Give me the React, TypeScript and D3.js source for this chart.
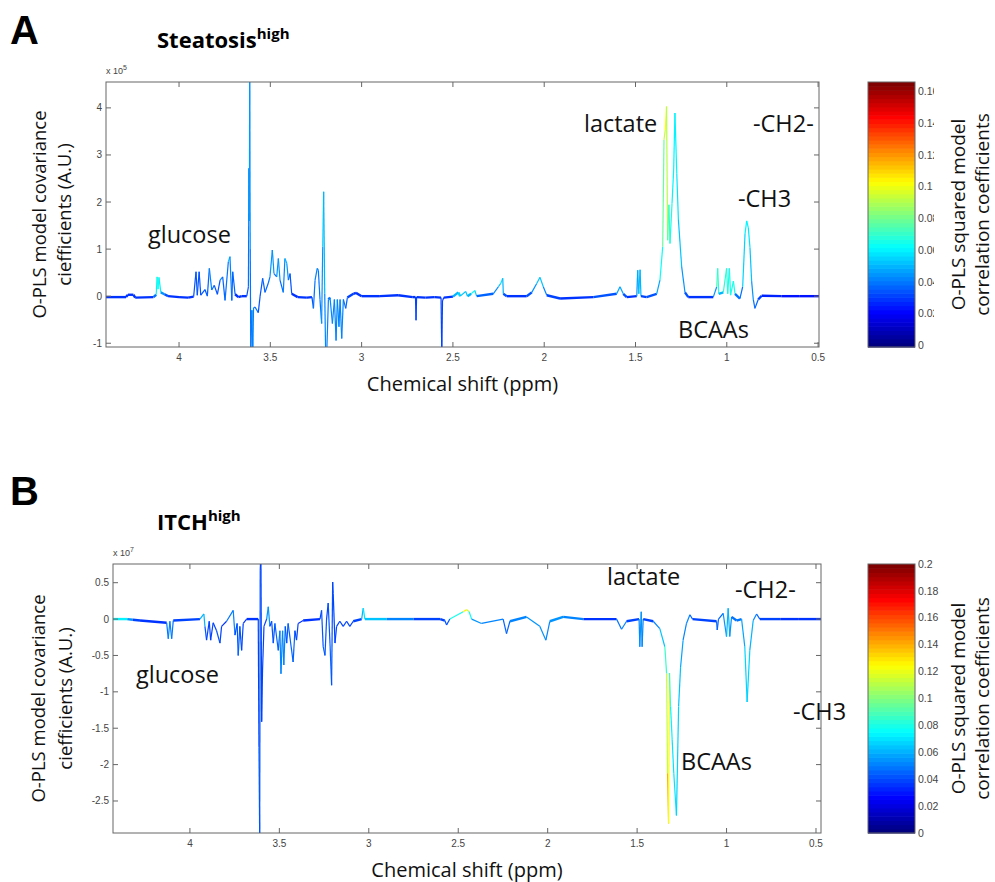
import { useEffect } from "react";
import * as d3 from "d3";

// [ppm, covariance, r2]
type Pt = [number, number, number];

// Steatosis high, covariance in units of 1e5
const steatosisSpectrum: Pt[] = [
  [4.4, -0.02, 0.03], [4.29, -0.02, 0.03], [4.28, 0.03, 0.03], [4.25, 0.03, 0.03], [4.24, -0.03, 0.03],
  [4.14, -0.02, 0.03], [4.125, 0.03, 0.05], [4.12, 0.41, 0.07], [4.115, 0.15, 0.06], [4.11, 0.4, 0.07],
  [4.1, 0.08, 0.05], [4.08, 0.04, 0.04], [4.06, 0.0, 0.03], [4.0, -0.02, 0.03], [3.95, -0.03, 0.03],
  [3.92, -0.01, 0.03], [3.907, 0.52, 0.04], [3.9, 0.02, 0.03], [3.89, 0.52, 0.04], [3.881, 0.02, 0.03],
  [3.858, 0.14, 0.04], [3.845, 0.0, 0.03], [3.834, 0.59, 0.045], [3.821, 0.13, 0.04], [3.807, 0.23, 0.04],
  [3.79, 0.04, 0.03], [3.775, 0.34, 0.04], [3.761, 0.41, 0.045], [3.748, -0.09, 0.03], [3.73, 0.73, 0.05],
  [3.721, 0.84, 0.055], [3.711, -0.09, 0.03], [3.706, 0.52, 0.045], [3.693, 0.04, 0.03], [3.675, -0.02, 0.03],
  [3.657, 0.0, 0.03], [3.629, 0.0, 0.03], [3.62, 0.2, 0.04], [3.617, 2.72, 0.04], [3.615, 1.6, 0.045],
  [3.613, 4.7, 0.05], [3.61, 1.0, 0.04], [3.607, -1.2, 0.04], [3.601, -0.3, 0.04], [3.596, -1.2, 0.045],
  [3.592, -0.25, 0.04], [3.584, -0.23, 0.04], [3.566, -0.35, 0.04], [3.556, 0.0, 0.03], [3.542, 0.38, 0.04],
  [3.529, 0.08, 0.035], [3.511, 0.28, 0.04], [3.502, 0.41, 0.04], [3.489, 0.98, 0.05], [3.48, 0.48, 0.04],
  [3.465, 0.41, 0.04], [3.456, 0.8, 0.05], [3.447, 0.34, 0.04], [3.429, 0.08, 0.035], [3.42, 0.8, 0.05],
  [3.41, 0.7, 0.05], [3.401, 0.34, 0.04], [3.392, 0.48, 0.04], [3.383, 0.05, 0.03], [3.35, -0.02, 0.03],
  [3.3, -0.03, 0.03], [3.272, -0.02, 0.03], [3.264, -0.26, 0.04], [3.255, 0.34, 0.04], [3.243, 0.59, 0.045],
  [3.237, 0.55, 0.04], [3.228, -0.07, 0.04], [3.219, -0.58, 0.04], [3.213, 1.05, 0.05], [3.208, 2.22, 0.06],
  [3.202, 0.05, 0.04], [3.197, -1.2, 0.045], [3.191, -1.2, 0.045], [3.182, -0.07, 0.04], [3.173, -0.03, 0.04],
  [3.16, -0.58, 0.045], [3.149, -0.07, 0.04], [3.14, -0.94, 0.045], [3.133, -0.07, 0.04], [3.124, -0.65, 0.045],
  [3.118, -0.07, 0.04], [3.109, -0.9, 0.045], [3.1, -0.07, 0.04], [3.087, -0.26, 0.04], [3.078, -0.03, 0.035],
  [3.045, 0.05, 0.03], [3.031, 0.07, 0.03], [3.0, 0.0, 0.03], [2.9, 0.0, 0.03], [2.8, 0.02, 0.03],
  [2.72, -0.02, 0.03], [2.705, -0.02, 0.03], [2.702, -0.51, 0.035], [2.699, -0.02, 0.03], [2.65, -0.03, 0.03],
  [2.6, -0.02, 0.03], [2.565, -0.03, 0.03], [2.561, -1.2, 0.035], [2.557, -0.1, 0.03], [2.55, -0.03, 0.03],
  [2.5, -0.01, 0.03], [2.47, 0.08, 0.07], [2.46, 0.0, 0.04], [2.43, 0.1, 0.065], [2.42, 0.0, 0.04],
  [2.4, 0.05, 0.06], [2.38, 0.12, 0.07], [2.37, 0.0, 0.04], [2.279, 0.05, 0.035], [2.251, 0.2, 0.05],
  [2.238, 0.27, 0.055], [2.227, 0.38, 0.06], [2.224, 0.05, 0.04], [2.205, 0.0, 0.03], [2.096, 0.0, 0.03],
  [2.068, 0.08, 0.04], [2.041, 0.27, 0.05], [2.023, 0.4, 0.055], [2.005, 0.2, 0.05], [1.986, 0.02, 0.035],
  [1.913, -0.05, 0.03], [1.731, -0.02, 0.03], [1.603, 0.05, 0.04], [1.585, 0.2, 0.055], [1.567, 0.05, 0.04],
  [1.548, -0.02, 0.03], [1.493, 0.0, 0.03], [1.488, 0.55, 0.06], [1.482, 0.05, 0.04], [1.475, 0.56, 0.065],
  [1.47, 0.0, 0.035], [1.439, -0.02, 0.03], [1.384, 0.05, 0.04], [1.366, 0.34, 0.055], [1.351, 1.05, 0.07],
  [1.344, 3.32, 0.09], [1.337, 3.53, 0.1], [1.33, 4.03, 0.105], [1.324, 1.19, 0.08], [1.317, 1.94, 0.075],
  [1.311, 1.12, 0.07], [1.3, 1.97, 0.06], [1.291, 2.68, 0.06], [1.284, 3.89, 0.06], [1.274, 2.61, 0.06],
  [1.265, 1.62, 0.055], [1.247, 0.62, 0.05], [1.229, 0.08, 0.04], [1.211, -0.02, 0.03], [1.074, -0.02, 0.03],
  [1.055, 0.2, 0.06], [1.05, 0.59, 0.09], [1.044, 0.05, 0.05], [1.019, 0.08, 0.05], [1.001, 0.59, 0.085],
  [0.995, 0.05, 0.05], [0.986, 0.59, 0.08], [0.979, 0.02, 0.05], [0.964, 0.32, 0.08], [0.955, 0.05, 0.05],
  [0.928, -0.05, 0.03], [0.913, 0.2, 0.05], [0.9, 1.33, 0.06], [0.891, 1.6, 0.06], [0.882, 1.45, 0.06],
  [0.873, 1.03, 0.055], [0.864, 0.32, 0.05], [0.855, -0.07, 0.04], [0.846, -0.26, 0.04], [0.828, -0.07, 0.035],
  [0.809, 0.01, 0.03], [0.7, 0.0, 0.025], [0.6, 0.0, 0.025], [0.495, 0.0, 0.025],
];

// ITCH high, covariance in units of 1e7
const itchSpectrum: Pt[] = [
  [4.43, 0.0, 0.075], [4.35, 0.0, 0.07], [4.32, -0.01, 0.04], [4.279, -0.02, 0.035], [4.13, -0.05, 0.035],
  [4.121, -0.27, 0.06], [4.112, -0.03, 0.04], [4.102, -0.27, 0.06], [4.093, -0.02, 0.035], [3.944, 0.0, 0.04],
  [3.922, 0.07, 0.08], [3.916, -0.1, 0.04], [3.907, -0.29, 0.045], [3.892, -0.03, 0.035], [3.884, -0.29, 0.045],
  [3.87, -0.05, 0.035], [3.851, -0.16, 0.04], [3.832, -0.33, 0.045], [3.823, -0.1, 0.035], [3.795, -0.03, 0.035],
  [3.758, 0.12, 0.06], [3.748, -0.22, 0.045], [3.736, -0.06, 0.035], [3.73, -0.5, 0.05], [3.721, -0.1, 0.04],
  [3.711, -0.43, 0.045], [3.702, -0.06, 0.035], [3.683, 0.0, 0.035], [3.618, 0.0, 0.035], [3.614, -1.76, 0.045],
  [3.61, -3.0, 0.045], [3.607, 0.67, 0.04], [3.603, 0.9, 0.04], [3.599, -1.41, 0.04], [3.594, -0.7, 0.04],
  [3.586, -0.1, 0.04], [3.571, 0.0, 0.04], [3.562, 0.17, 0.07], [3.553, -0.1, 0.04], [3.543, -0.03, 0.04],
  [3.534, -0.33, 0.045], [3.525, -0.06, 0.04], [3.506, -0.43, 0.05], [3.497, -0.16, 0.04], [3.491, -0.75, 0.06],
  [3.482, -0.16, 0.04], [3.475, -0.63, 0.06], [3.467, -0.1, 0.04], [3.459, -0.33, 0.045], [3.451, -0.06, 0.04],
  [3.423, -0.59, 0.05], [3.413, -0.16, 0.04], [3.404, -0.29, 0.04], [3.395, -0.06, 0.035], [3.367, -0.02, 0.035],
  [3.273, 0.0, 0.035], [3.264, 0.12, 0.04], [3.255, -0.38, 0.045], [3.245, -0.5, 0.045], [3.236, 0.0, 0.04],
  [3.227, 0.22, 0.04], [3.217, -0.33, 0.045], [3.208, -0.91, 0.045], [3.202, 0.51, 0.04], [3.199, 0.35, 0.04],
  [3.189, -0.33, 0.04], [3.18, -0.1, 0.04], [3.162, -0.03, 0.04], [3.143, -0.1, 0.04], [3.124, -0.03, 0.04],
  [3.106, -0.1, 0.04], [3.087, -0.03, 0.04], [3.04, 0.0, 0.04], [3.031, 0.15, 0.08], [3.022, 0.0, 0.06],
  [2.9, 0.0, 0.065], [2.75, 0.0, 0.04], [2.6, 0.0, 0.035], [2.575, -0.02, 0.04], [2.565, -0.08, 0.045],
  [2.547, 0.0, 0.04], [2.472, 0.1, 0.12], [2.453, 0.13, 0.13], [2.439, 0.1, 0.1], [2.425, 0.0, 0.05],
  [2.37, -0.06, 0.06], [2.249, 0.0, 0.04], [2.23, -0.2, 0.05], [2.211, -0.03, 0.04], [2.118, 0.03, 0.06],
  [2.044, -0.1, 0.05], [2.01, -0.29, 0.06], [1.988, -0.03, 0.04], [1.913, 0.03, 0.07], [1.8, 0.0, 0.035],
  [1.615, 0.0, 0.035], [1.587, -0.14, 0.06], [1.559, -0.03, 0.04], [1.489, 0.0, 0.04], [1.485, -0.38, 0.06],
  [1.477, 0.1, 0.05], [1.472, -0.38, 0.06], [1.466, 0.0, 0.04], [1.41, -0.03, 0.04], [1.373, -0.13, 0.06],
  [1.345, -0.38, 0.07], [1.335, -0.75, 0.1], [1.33, -2.12, 0.13], [1.324, -2.81, 0.145], [1.319, -0.74, 0.1],
  [1.313, -1.2, 0.075], [1.304, -1.66, 0.07], [1.295, -2.12, 0.07], [1.28, -2.7, 0.07], [1.268, -1.2, 0.065],
  [1.257, -0.66, 0.06], [1.243, -0.29, 0.055], [1.224, -0.06, 0.05], [1.205, 0.06, 0.05], [1.19, 0.0, 0.04],
  [1.056, -0.03, 0.04], [1.052, -0.15, 0.05], [1.045, 0.0, 0.04], [1.019, 0.08, 0.05], [1.0, -0.24, 0.06],
  [0.991, 0.15, 0.06], [0.982, -0.24, 0.06], [0.972, 0.03, 0.05], [0.944, -0.02, 0.045], [0.916, 0.0, 0.05],
  [0.898, -0.38, 0.065], [0.885, -1.14, 0.07], [0.87, -0.43, 0.065], [0.851, -0.02, 0.055], [0.832, 0.07, 0.05],
  [0.814, 0.0, 0.04], [0.7, 0.0, 0.035], [0.6, 0.0, 0.035], [0.47, 0.0, 0.035],
];

const ppmTicks = [4, 3.5, 3, 2.5, 2, 1.5, 1, 0.5];
const steatosisYTicks = [-1, 0, 1, 2, 3, 4];
const itchYTicks = [-2.5, -2, -1.5, -1, -0.5, 0, 0.5];
const steatosisR2Ticks = [0, 0.02, 0.04, 0.06, 0.08, 0.1, 0.12, 0.14, 0.16];
const itchR2Ticks = [0, 0.02, 0.04, 0.06, 0.08, 0.1, 0.12, 0.14, 0.16, 0.18, 0.2];

const steatosisLabels = [
  { text: "glucose", x: 148, y: 243 },
  { text: "lactate", x: 584, y: 132 },
  { text: "-CH2-", x: 753, y: 132 },
  { text: "-CH3", x: 738, y: 207 },
  { text: "BCAAs", x: 678, y: 338 },
];
const itchLabels = [
  { text: "glucose", x: 136, y: 683 },
  { text: "lactate", x: 607, y: 585 },
  { text: "-CH2-", x: 735, y: 598 },
  { text: "-CH3", x: 793, y: 720 },
  { text: "BCAAs", x: 681, y: 770 },
];

const LABEL_FONT = "'Open Sans', 'Noto Sans', sans-serif";
const TICK_FONT = "'Liberation Sans', Arial, sans-serif";

// MATLAB jet colormap with 64 steps
const jet = (t: number) => {
  const q = Math.min(63, Math.max(0, Math.floor(t * 64))) / 63;
  const c = (v: number) => Math.round(255 * Math.min(1, Math.max(0, v)));
  return d3.rgb(c(1.5 - Math.abs(4 * q - 3)), c(1.5 - Math.abs(4 * q - 2)), c(1.5 - Math.abs(4 * q - 1))).toString();
};

type PanelProps = {
  id: string;
  letter: string;
  title: string;
  letterY: number;
  titleX: number;
  titleY: number;
  data: Pt[];
  box: { left: number; right: number; top: number; bottom: number };
  xDomain: [number, number];
  yDomain: [number, number];
  yTicks: number[];
  exponent: string;
  r2Max: number;
  r2Min: number;
  r2Ticks: number[];
  cbar: { top: number; bottom: number };
  clipCbarLabels: boolean;
  labels: { text: string; x: number; y: number }[];
  xLabelY: number;
  yLabelX: [number, number];
  cbarLabelX: [number, number];
};

const Panel = (p: PanelProps) => {
  const { box } = p;
  const x = d3.scaleLinear().domain(p.xDomain).range([box.left, box.right]);
  const y = d3.scaleLinear().domain(p.yDomain).range([box.bottom, box.top]);
  const yr = d3.scaleLinear().domain([p.r2Min, p.r2Max]).range([p.cbar.bottom, p.cbar.top]);
  const cbL = 868;
  const cbR = 915;
  const span = p.yDomain[1] - p.yDomain[0];
  const line = d3
    .line<Pt>()
    .x((d) => x(d[0]))
    .y((d) => y(d[1]));
  const segs = d3.pairs(p.data);
  const tickLen = 5;
  const midY = (box.top + box.bottom) / 2;
  const cbMid = (p.cbar.top + p.cbar.bottom) / 2;
  const nBands = 64;
  const bands = d3.range(nBands);
  const bandH = (p.cbar.bottom - p.cbar.top) / nBands;
  return (
    <g>
      <defs>
        <clipPath id={`clip-${p.id}`}>
          <rect x={box.left} y={box.top} width={box.right - box.left} height={box.bottom - box.top} />
        </clipPath>
        <clipPath id={`cbclip-${p.id}`}>
          <rect x={cbR} y={p.cbar.top - 20} width={p.clipCbarLabels ? 19 : 60} height={p.cbar.bottom - p.cbar.top + 40} />
        </clipPath>
      </defs>
      <text x={10} y={p.letterY} fontFamily={TICK_FONT} fontWeight="bold" fontSize={40}>
        {p.letter}
      </text>
      <text x={p.titleX} y={p.titleY} fontFamily={LABEL_FONT} fontWeight="bold" fontSize={22}>
        {p.title}
        <tspan fontSize={15} dy={-9}>high</tspan>
      </text>

      {/* spectrum */}
      <g clipPath={`url(#clip-${p.id})`} fill="none" strokeLinejoin="round">
        {segs.map(([a, b], i) => {
          const flat = Math.abs(a[1]) < span * 0.015 && Math.abs(b[1]) < span * 0.015;
          return (
            <path
              key={i}
              d={line([a, b]) || ""}
              stroke={jet((a[2] + b[2]) / 2 / p.r2Max)}
              strokeWidth={flat ? 2.4 : 1.2}
            />
          );
        })}
      </g>

      {/* axes box */}
      <rect x={box.left} y={box.top} width={box.right - box.left} height={box.bottom - box.top} fill="none" stroke="#666" strokeWidth={1} />
      {ppmTicks.map((t) => (
        <g key={`x${t}`}>
          <line x1={x(t)} x2={x(t)} y1={box.bottom} y2={box.bottom - tickLen} stroke="#666" />
          <line x1={x(t)} x2={x(t)} y1={box.top} y2={box.top + tickLen} stroke="#666" />
          <text x={x(t)} y={box.bottom + 14} textAnchor="middle" fontFamily={TICK_FONT} fontSize={10} fill="#444">
            {String(t)}
          </text>
        </g>
      ))}
      {p.yTicks.map((t) => (
        <g key={`y${t}`}>
          <line x1={box.left} x2={box.left + tickLen} y1={y(t)} y2={y(t)} stroke="#666" />
          <line x1={box.right} x2={box.right - tickLen} y1={y(t)} y2={y(t)} stroke="#666" />
          <text x={box.left - 4} y={y(t)} dy="0.35em" textAnchor="end" fontFamily={TICK_FONT} fontSize={10} fill="#444">
            {String(t)}
          </text>
        </g>
      ))}
      <text x={box.left} y={box.top - 8} fontFamily={TICK_FONT} fontSize={9} fill="#444">
        x 10<tspan fontSize={7} dy={-4}>{p.exponent}</tspan>
      </text>

      {/* annotations */}
      {p.labels.map((l) => (
        <text key={l.text} x={l.x} y={l.y} fontFamily={LABEL_FONT} fontSize={23.5} fill="#111">
          {l.text}
        </text>
      ))}

      {/* axis titles */}
      <text x={(box.left + box.right) / 2} y={p.xLabelY} textAnchor="middle" fontFamily={LABEL_FONT} fontSize={20} fill="#111">
        Chemical shift (ppm)
      </text>
      <g fontFamily={LABEL_FONT} fontSize={18.5} fill="#111" textAnchor="middle">
        <text transform={`translate(${p.yLabelX[0]},${midY}) rotate(-90)`} dy="0.35em">
          O-PLS model covariance
        </text>
        <text transform={`translate(${p.yLabelX[1]},${midY}) rotate(-90)`} dy="0.35em">
          ciefficients (A.U.)
        </text>
      </g>
      <g fontFamily={LABEL_FONT} fontSize={19} fill="#111" textAnchor="middle">
        <text transform={`translate(${p.cbarLabelX[0]},${cbMid}) rotate(-90)`} dy="0.35em">
          O-PLS squared model
        </text>
        <text transform={`translate(${p.cbarLabelX[1]},${cbMid}) rotate(-90)`} dy="0.35em">
          correlation coefficients
        </text>
      </g>

      {/* colorbar */}
      {bands.map((i) => (
        <rect
          key={`b${i}`}
          x={cbL}
          width={cbR - cbL}
          y={p.cbar.bottom - (i + 1) * bandH}
          height={bandH + 0.6}
          fill={jet((i + 0.5) / nBands)}
        />
      ))}
      <rect x={cbL} y={p.cbar.top} width={cbR - cbL} height={p.cbar.bottom - p.cbar.top} fill="none" stroke="#666" />
      <g clipPath={`url(#cbclip-${p.id})`}>
        {p.r2Ticks.map((t) => (
          <g key={`c${t}`}>
            <line x1={cbL} x2={cbL + 4} y1={yr(t)} y2={yr(t)} stroke="#333" />
            <line x1={cbR} x2={cbR - 4} y1={yr(t)} y2={yr(t)} stroke="#333" />
            <text x={cbR + 3} y={yr(t)} dy="0.35em" fontFamily={TICK_FONT} fontSize={10.5} fill="#444">
              {String(t)}
            </text>
          </g>
        ))}
      </g>
    </g>
  );
};

export default function App() {
  useEffect(() => {
    document.body.style.margin = "0";
  }, []);
  return (
    <svg width={995} height={882} style={{ display: "block", background: "#fff" }}>
      <rect width={995} height={882} fill="#fff" />
      <Panel
        id="a"
        letter="A"
        title="Steatosis"
        letterY={44}
        titleX={157}
        titleY={48}
        data={steatosisSpectrum}
        box={{ left: 106, right: 819, top: 82, bottom: 347 }}
        xDomain={[4.4, 0.495]}
        yDomain={[-1.08, 4.55]}
        yTicks={steatosisYTicks}
        exponent="5"
        r2Min={-0.001}
        r2Max={0.166}
        r2Ticks={steatosisR2Ticks}
        cbar={{ top: 82, bottom: 347 }}
        clipCbarLabels={true}
        labels={steatosisLabels}
        xLabelY={391}
        yLabelX={[40, 65]}
        cbarLabelX={[958, 982]}
      />
      <Panel
        id="b"
        letter="B"
        title="ITCH"
        letterY={505}
        titleX={157}
        titleY={530}
        data={itchSpectrum}
        box={{ left: 113, right: 821, top: 564, bottom: 833 }}
        xDomain={[4.43, 0.472]}
        yDomain={[-2.94, 0.757]}
        yTicks={itchYTicks}
        exponent="7"
        r2Min={0}
        r2Max={0.2}
        r2Ticks={itchR2Ticks}
        cbar={{ top: 564, bottom: 833 }}
        clipCbarLabels={false}
        labels={itchLabels}
        xLabelY={877}
        yLabelX={[39, 66]}
        cbarLabelX={[958, 982]}
      />
    </svg>
  );
}
